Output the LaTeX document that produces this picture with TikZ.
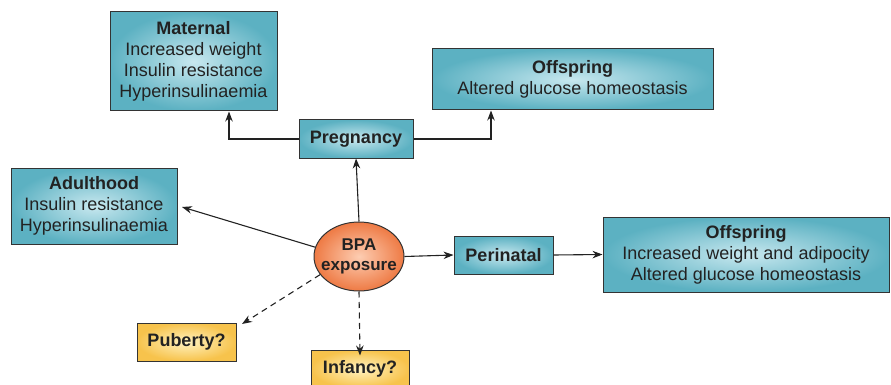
\documentclass[tikz,border=0pt]{standalone}
\usepackage{fontspec}
\setmainfont{Liberation Sans}
\usetikzlibrary{shapes.geometric,arrows.meta}
\definecolor{tealout}{HTML}{5CB1C2}
\definecolor{tealin}{HTML}{C8E8EF}
\definecolor{orout}{HTML}{EE7A44}
\definecolor{orin}{HTML}{FDCDB2}
\definecolor{yelout}{HTML}{F7C34C}
\definecolor{yelin}{HTML}{FFF2C0}
\definecolor{ink}{HTML}{222222}
\definecolor{edge}{HTML}{333333}
\begin{document}
\begin{tikzpicture}[x=1pt,y=-1pt,
  every node/.style={font=\fontsize{18}{21}\selectfont, text=ink},
  tealbox/.style={draw=edge, line width=1pt, inner color=tealin, outer color=tealout,
    inner sep=0pt, align=center},
  yelbox/.style={draw=edge, line width=1pt, inner color=yelin, outer color=yelout,
    inner sep=0pt, align=center, font=\fontsize{18}{21}\selectfont\bfseries},
  bpa/.style={ellipse, draw=edge, line width=1pt, inner color=orin, outer color=orout,
    inner xsep=-8pt, inner ysep=0pt, align=center, font=\fontsize{17}{20}\selectfont\bfseries},
  conn/.style={draw=ink, line width=1.1pt, -{Stealth[length=10pt,width=7.5pt]}},
  dconn/.style={conn, dash pattern=on 6pt off 4.5pt}
]
\useasboundingbox (0,0) rectangle (891,385);

% boxes (center, size)
\node[tealbox, minimum width=167pt, minimum height=99pt] (mat) at (193.5,61.5)
  {\textbf{Maternal}\\Increased weight\\Insulin resistance\\Hyperinsulinaemia};
\node[tealbox, minimum width=114pt, minimum height=38pt, font=\fontsize{18}{21}\selectfont\bfseries] (preg) at (356,139) {Pregnancy};
\node[tealbox, minimum width=281pt, minimum height=61pt] (offtop) at (572.5,79.5)
  {\textbf{Offspring}\\Altered glucose homeostasis};
\node[tealbox, minimum width=166pt, minimum height=76pt] (adult) at (94,206)
  {\textbf{Adulthood}\\Insulin resistance\\Hyperinsulinaemia};
\node[bpa, minimum width=90pt, minimum height=69pt] (bpa) at (359,256.5) {BPA\\exposure};
\node[tealbox, minimum width=99pt, minimum height=38pt, font=\fontsize{18}{21}\selectfont\bfseries] (peri) at (503.5,255) {Perinatal};
\node[tealbox, minimum width=286pt, minimum height=75pt] (offright) at (746,254.5)
  {\textbf{Offspring}\\Increased weight and adipocity\\Altered glucose homeostasis};
\node[yelbox, minimum width=99pt, minimum height=38pt] (pub) at (186.5,342) {Puberty?};
\node[yelbox, minimum width=98pt, minimum height=38pt] (inf) at (360,369) {Infancy?};

% arrow end points
\coordinate (matin) at (229,111.5);
\coordinate (offin) at (491,110.5);
\coordinate (adultin) at (182,207);
\coordinate (pubin) at (242,324);

% connectors
\draw[conn] (preg.west) -| (matin);
\draw[conn] (preg.east) -| (offin);
\draw[conn] (bpa.north) -- (preg.south);
\draw[conn] (bpa.168) -- (adultin);
\draw[conn] (bpa.east) -- (peri.west);
\draw[conn] (peri.east) -- (offright.west);
\draw[dconn] (bpa.205) -- (pubin);
\draw[dconn] (bpa.south) -- ([yshift=-6pt]inf.north);
\end{tikzpicture}
\end{document}
